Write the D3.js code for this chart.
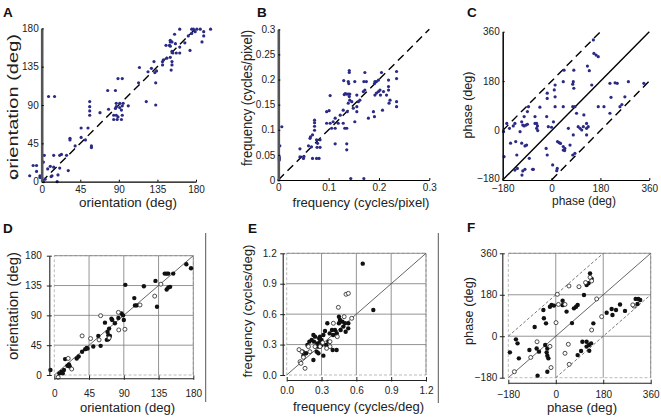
<!DOCTYPE html>
<html><head><meta charset="utf-8">
<script src="https://cdn.jsdelivr.net/npm/d3@7"></script>
<style>
html,body{margin:0;padding:0;background:#fff;}
svg{display:block;font-family:"Liberation Sans",Arial,sans-serif;}
</style></head>
<body><svg id="c" width="661" height="418"></svg>
<script>
// ---------------- DATA ----------------
const ticksOri = [0, 45, 90, 135, 180];
const ticksFreqPix = [0, 0.1, 0.2, 0.3];
const ticksFreqPixY = [0, 0.05, 0.1, 0.15, 0.2, 0.25, 0.3];
const ticksPhase = [-180, 0, 180, 360];
const ticksFreqDeg = [0, 0.3, 0.6, 0.9, 1.2];

// Panel A: model orientation (x) vs (y)
const pointsA = [[161,179],[175,179],[177,179],[181,179],[185,179],[197,179],[189,176],[179,176],[175,174],[171,171],[189,171],[155,173],[150,166],[150,164],[152,164],[187,164],[156,162],[145,160],[149,160],[167,163],[161,158],[150,159],[173,154],[152,153],[153,151],[157,151],[161,151],[142,143],[146,145],[150,146],[152,141],[152,137],[141,141],[141,137],[131,141],[128,133],[151,131],[134,130],[114,134],[124,129],[132,128],[133,116],[113,116],[122,94],[133,90],[89,121],[94,121],[77,107],[86,107],[101,89],[94,89],[87,92],[91,92],[95,92],[87,88],[91,87],[86,86],[93,84],[84,78],[87,78],[89,76],[94,78],[84,73],[88,73],[93,73],[68,81],[78,85],[56,94],[56,88],[56,83],[56,78],[54,63],[46,63],[46,52],[51,49],[33,51],[33,49],[39,42],[58,42],[58,40],[8,100],[15,100],[29,31],[21,31],[23,32],[14,31],[3,31],[31,13],[2,23],[-10,19],[-6,19],[-6,12],[-29,7],[-14,7],[10,18],[14,17],[19,8],[12,7],[4,3],[2,0],[18,0],[21,16],[-2,7],[-2,5],[0,5],[7,15],[11,6]];

// Panel B: frequency (cycles/pixel)
const pointsB = [[0.003,0.068],[0.002,0.046],[0.002,0.043],[0.002,0.040],[0.007,0.106],[0.001,0.0],[0.043,0.062],[0.043,0.046],[0.050,0.043],[0.051,0.047],[0.060,0.068],[0.063,0.083],[0.064,0.086],[0.068,0.090],[0.072,0.119],[0.072,0.114],[0.072,0.107],[0.072,0.099],[0.066,0.066],[0.068,0.043],[0.076,0.043],[0.081,0.043],[0.076,0.080],[0.083,0.080],[0.077,0.065],[0.083,0.065],[0.078,0.073],[0.096,0.136],[0.101,0.138],[0.103,0.168],[0.096,0.113],[0.103,0.113],[0.109,0.116],[0.113,0.123],[0.113,0.103],[0.106,0.103],[0.119,0.113],[0.123,0.129],[0.113,0.072],[0.129,0.139],[0.129,0.113],[0.132,0.103],[0.136,0.103],[0.136,0.072],[0.136,0.060],[0.130,0.198],[0.139,0.196],[0.141,0.218],[0.141,0.214],[0.140,0.192],[0.133,0.172],[0.136,0.171],[0.139,0.171],[0.142,0.171],[0.131,0.170],[0.141,0.166],[0.142,0.159],[0.139,0.153],[0.146,0.156],[0.149,0.143],[0.156,0.146],[0.156,0.136],[0.162,0.159],[0.159,0.156],[0.152,0.116],[0.137,0.136],[0.152,0.196],[0.156,0.169],[0.170,0.196],[0.169,0.176],[0.172,0.179],[0.172,0.214],[0.175,0.196],[0.179,0.123],[0.189,0.136],[0.191,0.126],[0.192,0.169],[0.192,0.196],[0.195,0.196],[0.199,0.199],[0.195,0.173],[0.199,0.176],[0.202,0.179],[0.203,0.169],[0.205,0.214],[0.207,0.139],[0.209,0.176],[0.215,0.169],[0.219,0.199],[0.219,0.186],[0.219,0.179],[0.220,0.153],[0.222,0.159],[0.235,0.216],[0.235,0.202],[0.235,0.156],[0.235,0.146],[0.170,0.003],[0.144,0.003],[0.191,0.192]];

// Panel C: phase (deg)
const pointsC = [[-177,-4],[-175,-95],[-165,26],[-155,8],[-151,-46],[-141,17],[-135,26],[-132,-40],[-128,-89],[-135,-144],[-126,-138],[-116,-4],[-110,32],[-110,-46],[-106,20],[-101,17],[-94,20],[-89,23],[-101,51],[-98,-56],[-92,-53],[-89,69],[-85,87],[-82,-101],[-109,-162],[-106,-147],[-98,-141],[-61,51],[-61,26],[-55,26],[-52,17],[-55,8],[-51,0],[-43,85],[-67,-141],[-70,-141],[-16,136],[-16,117],[-12,14],[-18,51],[0,12],[13,166],[10,148],[13,123],[13,87],[7,32],[-20,-65],[-16,-89],[4,-125],[19,-146],[21,-138],[22,-40],[28,-44],[33,-47],[43,-58],[49,-65],[43,-71],[48,-73],[43,87],[46,220],[43,178],[62,8],[68,-53],[78,169],[80,178],[82,154],[82,220],[78,87],[86,87],[80,-16],[78,-89],[86,-83],[92,63],[98,14],[105,8],[111,2],[117,14],[129,8],[129,26],[135,14],[129,-16],[119,57],[132,235],[139,218],[148,166],[154,330],[156,281],[164,275],[172,269],[172,87],[193,87],[215,172],[219,121],[234,174],[242,172],[252,87],[259,95],[215,63],[270,123],[283,178],[340,172]];

// Panel D: orientation (deg), physiology
const filledD = [[-5,7.5],[6.5,2.5],[9.5,5],[11,2.5],[12.5,7.5],[14,24],[17,14],[19,16],[20,13],[29,25],[31.5,28],[36,35],[40,39],[42,41],[43,40],[50.5,43],[57,59],[60,44],[65.6,79],[69,65],[71,70],[70,60],[72,59],[68,53],[70,54],[74,85],[75,83],[78.5,78],[83,86],[87,93],[89,90],[90,83],[92,136],[103.6,116],[104.5,105],[106.6,105],[116,134],[131,142],[133,103],[143,153],[145.5,153],[147.6,153],[154,153],[145.5,129],[147.6,132],[150,133],[171,167],[177,161]];
const openD = [[5,-3.5],[18,25],[22.5,9],[36,59],[47,55],[58,53],[60,89.5],[71,56],[83,94.5],[83.5,68],[91.5,69],[111,105.6],[130,119],[138,137]];

// Panel E: frequency (cycles/deg), physiology
const filledE = [[0.655,1.098],[0.746,0.641],[0.531,0.51],[0.45,0.51],[0.35,0.51],[0.45,0.575],[0.459,0.542],[0.48,0.526],[0.502,0.51],[0.488,0.477],[0.465,0.444],[0.43,0.247],[0.40,0.394],[0.39,0.444],[0.37,0.41],[0.33,0.434],[0.316,0.394],[0.30,0.345],[0.287,0.378],[0.279,0.362],[0.264,0.312],[0.244,0.378],[0.23,0.394],[0.215,0.345],[0.195,0.329],[0.178,0.296],[0.167,0.214],[0.144,0.191],[0.138,0.23],[0.235,0.329],[0.258,0.23],[0.273,0.214],[0.23,0.148],[0.316,0.191],[0.339,0.296],[0.359,0.329],[0.396,0.247],[0.287,0.329],[0.301,0.296],[0.273,0.28],[0.431,0.411],[0.416,0.444],[0.53,0.46],[0.508,0.427]];
const openE = [[0.511,0.796],[0.531,0.805],[0.445,0.667],[0.402,0.51],[0.56,0.559],[0.495,0.575],[0.436,0.378],[0.373,0.329],[0.31,0.319],[0.244,0.28],[0.2,0.23],[0.187,0.28],[0.144,0.174],[0.115,0.131],[0.123,0.115],[0.158,0.066],[0.13,0.23],[0.106,0.25],[0.373,0.28],[0.344,0.263],[0.287,0.28]];

// Panel F: phase (deg), physiology
const filledF = [[-174,-70],[-151,-13.5],[-145,-31],[-140,-96],[-100,-60],[-80,40],[-72.5,-53],[-63.6,-67],[-47,114],[-45,78],[-37,56],[-40,-38],[-32,-53],[-34.5,-70],[-32,-84.5],[-28,-96],[-69,-171],[-32,-154],[-22,128],[-16,136],[-7,133],[26,154],[26,135],[41,107],[69,121],[77,128],[83,136],[61.6,57],[107,179],[117,222.5],[124,230],[130,273],[136,249],[117,-24],[117,-45],[101,-24],[126,-38],[134,-31],[142.5,56],[127,-63],[83,-82],[96,-64],[193,102],[212,118],[228.5,114],[243.6,138],[262.6,110],[303,162],[313,162],[310,140],[320,157],[215,92]];
const openF = [[-157,-154],[-95,-92],[-71,-24],[-22,-44],[-18,-136],[1,59],[6,182],[10,138],[35,138],[50,218],[88,215],[113,233],[130,256],[136,240],[155,162],[174,85],[136,27],[35,-74],[51,-122],[47.6,-35],[297,131],[292,136]];

// ---------------- DRAWING ----------------
const svg = d3.select("#c");
svg.append("rect").attr("width",661).attr("height",418).attr("fill","#fff");
const FONT = 10;
const dotColor = "#2b2b85";

function letter(t, x, y) {
  svg.append("text").attr("x",x).attr("y",y).text(t)
    .attr("font-size",13.5).attr("font-weight","bold").attr("fill","#111");
}
function xTitle(t, cx, y, len, fs) {
  svg.append("text").attr("x",cx).attr("y",y).attr("text-anchor","middle")
    .attr("font-size",fs).attr("fill","#222").attr("textLength",len)
    .attr("lengthAdjust","spacingAndGlyphs").text(t);
}
function yTitle(t, x, cy, len, fs) {
  svg.append("text").attr("transform",`translate(${x},${cy}) rotate(-90)`)
    .attr("text-anchor","middle").attr("font-size",fs).attr("fill","#222")
    .attr("textLength",len).attr("lengthAdjust","spacingAndGlyphs").text(t);
}

// Top row (Matlab style)
function topPanel(o) {
  const x = d3.scaleLinear().domain(o.xd).range(o.xr);
  const y = d3.scaleLinear().domain(o.yd).range(o.yr);
  const g = svg.append("g");
  o.lines.forEach(l => {
    g.append("line").attr("x1",x(l[0])).attr("y1",y(l[1])).attr("x2",x(l[2])).attr("y2",y(l[3]))
      .attr("stroke","#000").attr("stroke-width",1.4)
      .attr("stroke-dasharray", l[4] ? "8,5" : null);
  });
  g.selectAll("circle.p").data(o.pts).enter().append("circle")
    .attr("cx",d=>x(d[0])).attr("cy",d=>y(d[1])).attr("r",1.6).attr("fill",dotColor);
  const ax = g.append("g").attr("transform",`translate(0,${o.yr[0]})`)
    .call(d3.axisBottom(x).tickValues(o.xt).tickFormat(o.xf||d3.format("")).tickSize(-2).tickSizeOuter(0).tickPadding(o.xpad||4));
  ax.select(".domain").attr("stroke","#000").attr("stroke-width",1.2);
  ax.selectAll("text").attr("font-size",FONT).attr("fill","#222").attr("font-family",null);
  const ay = g.append("g").attr("transform",`translate(${o.xr[0]},0)`)
    .call(d3.axisLeft(y).tickValues(o.yt).tickFormat(o.yf||d3.format("")).tickSize(-2).tickSizeOuter(0).tickPadding(3));
  ay.select(".domain").attr("stroke",o.ycol).attr("stroke-width",o.yw);
  ay.selectAll("text").attr("font-size",FONT).attr("fill","#222").attr("font-family",null);
  if (o.yshift) ay.selectAll(".tick text").filter(d => d === o.yd[0]).attr("dy", o.yshift);
}

topPanel({xd:[0,180], xr:[41.7,196], yd:[0,180], yr:[181.7,28.3], xt:ticksOri, yt:ticksOri,
  pts:pointsA, lines:[[0,0,180,180,true]], ycol:"#555", yw:2.6});
topPanel({xd:[0,0.3], xr:[278.3,429.3], yd:[0,0.3], yr:[180,29.3], xt:ticksFreqPix, yt:ticksFreqPixY,
  xf:d=>d===0?"0":String(d), yf:d=>d===0?"0":String(d),
  pts:pointsB, lines:[[0,0,0.3,0.3,true]], ycol:"#555", yw:2.6});
topPanel({xd:[-180,360], xr:[502.7,649.3], yd:[-180,360], yr:[180,31.7], xt:ticksPhase, yt:ticksPhase,
  xpad:5, yshift:"0.1em",
  pts:pointsC, lines:[[-180,-180,360,360,false],[-180,0,180,360,true],[0,-180,360,180,true]], ycol:"#111", yw:1.6});

letter("A",3,17); letter("B",257,17); letter("C",467,17);
xTitle("orientation (deg)",128,207,98,13.5);
yTitle("orientation (deg)",18,107,146,14.5);
xTitle("frequency (cycles/pixel)",361,207,137,13.5);
yTitle("frequency (cycles/pixel)",252,98,136,14);
xTitle("phase (deg)",584,205,64,12.5);
yTitle("phase (deg)",472,105,67,12.5);

// Bottom row (paper-figure style, gridded box)
function bottomPanel(o) {
  const x = d3.scaleLinear().domain(o.xd).range(o.xr);
  const y = d3.scaleLinear().domain(o.yd).range(o.yr);
  const g = svg.append("g");
  g.append("rect").attr("x",o.xr[0]).attr("y",o.yr[1]).attr("width",o.xr[1]-o.xr[0]).attr("height",o.yr[0]-o.yr[1])
    .attr("fill","none").attr("stroke","#aaa").attr("stroke-width",0.8).attr("stroke-dasharray","3,2");
  o.xt.slice(1).forEach(t => g.append("line").attr("x1",x(t)).attr("x2",x(t)).attr("y1",o.yr[0]).attr("y2",o.yr[1])
    .attr("stroke","#7a7a7a").attr("stroke-width",0.8));
  o.yt.slice(1).forEach(t => g.append("line").attr("y1",y(t)).attr("y2",y(t)).attr("x1",o.xr[0]).attr("x2",o.xr[1])
    .attr("stroke","#7a7a7a").attr("stroke-width",0.8));
  o.lines.forEach(l => {
    g.append("line").attr("x1",x(l[0])).attr("y1",y(l[1])).attr("x2",x(l[2])).attr("y2",y(l[3]))
      .attr("stroke","#555").attr("stroke-width",l[4]?0.8:0.9)
      .attr("stroke-dasharray", l[4] ? "3,2" : null);
  });
  g.selectAll("circle.f").data(o.filled).enter().append("circle")
    .attr("cx",d=>x(d[0])).attr("cy",d=>y(d[1])).attr("r",2.2).attr("fill","#111");
  g.selectAll("circle.o").data(o.open).enter().append("circle")
    .attr("cx",d=>x(d[0])).attr("cy",d=>y(d[1])).attr("r",2.0).attr("fill","#fff")
    .attr("stroke","#222").attr("stroke-width",0.8);
  const ax = g.append("g").attr("transform",`translate(0,${o.axY})`)
    .call(d3.axisBottom(x).tickValues(o.xt).tickFormat(o.fmt).tickSize(-3).tickSizeOuter(0).tickPadding(o.xpad));
  ax.select(".domain").attr("stroke","#222").attr("stroke-width",1.1);
  ax.selectAll(".tick line").attr("y2",1.5).attr("y1",-3).attr("stroke","#222");
  ax.selectAll("text").attr("font-size",FONT).attr("fill","#222").attr("font-family",null);
  const ay = g.append("g").attr("transform",`translate(${o.axX},0)`)
    .call(d3.axisLeft(y).tickValues(o.yt).tickFormat(o.fmt).tickSize(2.5).tickSizeOuter(0).tickPadding(o.ypad));
  ay.select(".domain").attr("stroke","#222").attr("stroke-width",1.1);
  ay.selectAll(".tick line").attr("x1",2.5).attr("x2",-2.5).attr("stroke","#222");
  ay.selectAll("text").attr("font-size",FONT).attr("fill","#222").attr("font-family",null);
}

bottomPanel({xd:[0,180], xr:[54.3,193.3], yd:[0,180], yr:[375,255.7], xt:ticksOri, yt:ticksOri,
  fmt:d3.format(""), axY:378.3, axX:49.3, xpad:11.5, ypad:5,
  filled:filledD, open:openD, lines:[[0,0,180,180,false]]});
bottomPanel({xd:[0,1.2], xr:[286.7,426], yd:[0,1.2], yr:[375,253.3], xt:ticksFreqDeg, yt:ticksFreqDeg,
  fmt:d3.format(".1f"), axY:380, axX:282.7, xpad:6.5, ypad:3.5,
  filled:filledE, open:openE, lines:[[0,0,1.2,1.2,false]]});
bottomPanel({xd:[-180,360], xr:[508.3,650.7], yd:[-180,360], yr:[377.7,253.3], xt:ticksPhase, yt:ticksPhase,
  fmt:d3.format(""), axY:382.7, axX:502.3, xpad:8, ypad:2.5,
  filled:filledF, open:openF, lines:[[-180,-180,360,360,false],[-180,0,180,360,true],[0,-180,360,180,true]]});

letter("D",3,233); letter("E",248,233); letter("F",467,232);
xTitle("orientation (deg)",127.5,411.5,95,12.5);
yTitle("orientation (deg)",17.5,306,108,14);
xTitle("frequency (cycles/deg)",358.5,411,131,13);
yTitle("frequency (cycles/deg)",252,311,133,13.5);
xTitle("phase (deg)",582,411.5,70,12.5);
yTitle("phase (deg)",472.5,311,68,13);

[[205.7,233,402],[438.3,233,403]].forEach(s =>
  svg.append("line").attr("x1",s[0]).attr("x2",s[0]).attr("y1",s[1]).attr("y2",s[2])
    .attr("stroke","#555").attr("stroke-width",1));
</script>
</body></html>
